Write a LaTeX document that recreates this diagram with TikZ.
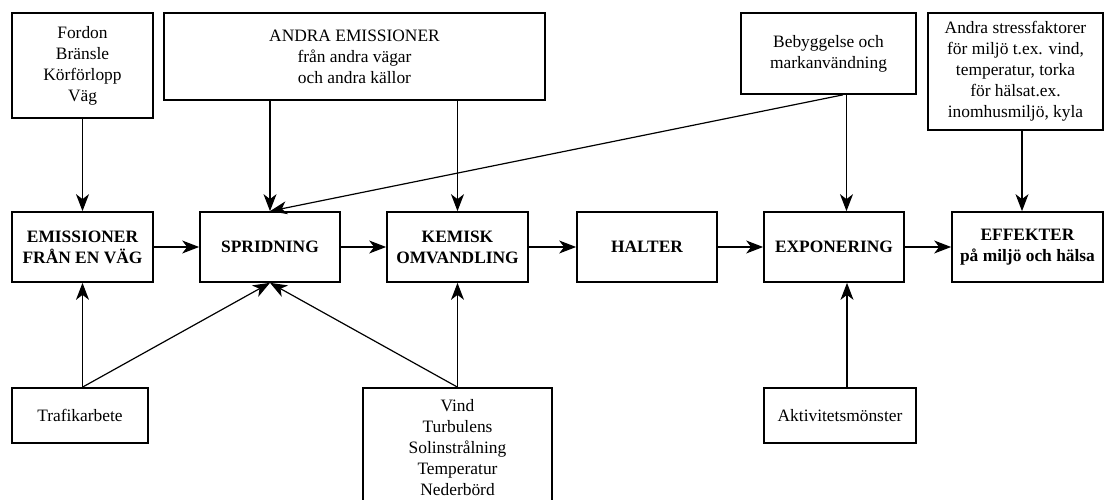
\documentclass[tikz,border=0pt]{standalone}
\usepackage{fontspec}
\setmainfont{Liberation Serif}
\usetikzlibrary{arrows.meta}
\begin{document}
\begin{tikzpicture}[x=1pt,y=-1pt,
  box/.style={draw, line width=1.7pt, inner sep=0pt, align=center,
    font=\fontsize{17.4}{21}\selectfont},
  bbox/.style={box, font=\fontsize{17.4}{21}\selectfont\bfseries},
  arr/.style={-{Stealth[length=17pt,width=13pt,inset=5pt]}, line width=1.2pt},
  ln/.style={line width=1.2pt}]
\useasboundingbox (0,0) rectangle (1104,500);
% top row
\node[box, minimum width=141pt, minimum height=105pt] (fordon) at (82.5,65.5)
  {Fordon\\Bränsle\\Körförlopp\\Väg};
\node[box, minimum width=381pt, minimum height=87pt] (andra) at (354.5,56.5)
  {ANDRA EMISSIONER\\från andra vägar\\och andra källor};
\node[box, minimum width=175pt, minimum height=81pt] (beb) at (828.5,53.5)
  {Bebyggelse och\\markanvändning};
\node[box, minimum width=175pt, minimum height=117pt] (stress) at (1015.5,71.5)
  {Andra stressfaktorer\\för miljö t.ex. vind,\\temperatur, torka\\för hälsat.ex.\\inomhusmiljö, kyla};
% middle row
\node[bbox, minimum width=141pt, minimum height=70pt] (emis) at (82.5,247)
  {EMISSIONER\\FRÅN EN VÄG};
\node[bbox, minimum width=140pt, minimum height=70pt] (sprid) at (270,247)
  {SPRIDNING};
\node[bbox, minimum width=141pt, minimum height=70pt] (kemisk) at (457.5,247)
  {KEMISK\\OMVANDLING};
\node[bbox, minimum width=140pt, minimum height=70pt] (halter) at (647,247)
  {HALTER};
\node[bbox, minimum width=140pt, minimum height=70pt] (expo) at (834,247)
  {EXPONERING};
\node[bbox, minimum width=151pt, minimum height=70pt] (eff) at (1027.5,247)
  {EFFEKTER\\på miljö och hälsa};
% bottom row
\node[box, minimum width=136pt, minimum height=55pt] (traf) at (80,415.5)
  {Trafikarbete};
\node[box, minimum width=189pt, minimum height=120pt] (vind) at (457.5,448)
  {Vind\\Turbulens\\Solinstrålning\\Temperatur\\Nederbörd};
\node[box, minimum width=152pt, minimum height=55pt] (akt) at (840,415.5)
  {Aktivitetsmönster};
% connectors
\draw[arr] (fordon.south) -- (emis.north);
\draw[arr] (sprid.north |- andra.south) -- (sprid.north);
\draw[arr] (kemisk.north |- andra.south) -- (kemisk.north);
\coordinate (bebA) at ([xshift=14.5pt]beb.south);
\coordinate (bebB) at ([xshift=18pt]beb.south);
\draw[arr] (bebA) -- (sprid.north);
\draw[arr] (bebB) -- (bebB |- expo.north);
\coordinate (stressA) at ([xshift=6.5pt]stress.south);
\draw[arr] (stressA) -- (stressA |- eff.north);
\draw[arr] (emis.east) -- (sprid.west);
\draw[arr] (sprid.east) -- (kemisk.west);
\draw[arr] (kemisk.east) -- (halter.west);
\draw[arr] (halter.east) -- (expo.west);
\draw[arr] (expo.east) -- (eff.west);
\coordinate (trafA) at (emis.south |- traf.north);
\draw[arr] (trafA) -- (emis.south);
\draw[arr] (trafA) -- (sprid.south);
\draw[arr] (vind.north) -- (kemisk.south);
\draw[arr] (vind.north) -- (sprid.south);
\coordinate (aktA) at ([xshift=7pt]akt.north);
\draw[arr] (aktA) -- (aktA |- expo.south);
\end{tikzpicture}
\end{document}
